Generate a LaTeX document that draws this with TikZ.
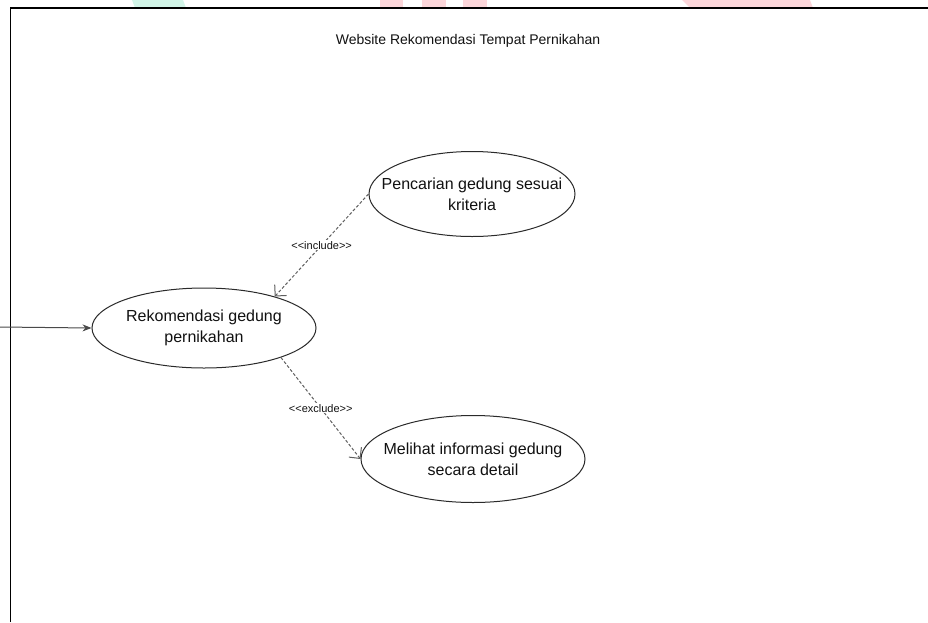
\documentclass[tikz,border=0pt]{standalone}
\usepackage{fontspec}
\setmainfont{Liberation Sans}
\usetikzlibrary{arrows.meta,shapes.geometric}
\definecolor{inkdark}{HTML}{111111}
\definecolor{edgegray}{HTML}{2A2A2A}
\definecolor{dashgray}{HTML}{5E5E5E}
\definecolor{wmred}{HTML}{FCD6DA}
\definecolor{wmgreen}{HTML}{D2F5E8}
\newcommand{\stereo}[1]{{<}{<}#1{>}{>}}
\begin{document}
\begin{tikzpicture}[x=1pt,y=-1pt,
  usecase/.style={draw=edgegray,line width=1pt,ellipse,fill=white,inner sep=0pt},
  uctext/.style={align=center,text=inkdark,font=\fontsize{16}{21}\selectfont,inner sep=0pt},
  relation/.style={draw=dashgray,line width=1pt,dash pattern=on 3pt off 2pt,
    -{Straight Barb[length=8pt,width=16pt,line width=1pt]}},
  rellabel/.style={fill=white,inner sep=1pt,text=inkdark,font=\fontsize{11}{13}\selectfont},
  assoc/.style={draw=edgegray!85!white,line width=1pt,-{Stealth[length=9pt,width=7pt]}},
  frame/.style={draw=black,line width=1.3pt}
]
\useasboundingbox (0,0) rectangle (928,622);

% faint logo shapes along the top edge
\fill[wmgreen] (132,0) -- (183,0) -- (186,8) -- (135,8) -- cycle;
\fill[wmred] (380,0) rectangle (403,8);
\fill[wmred] (422,0) rectangle (446,8);
\fill[wmred] (463,0) rectangle (487,8);
\fill[wmred] (682,0) -- (810,0) -- (813,8) -- (690,8) -- cycle;

% system boundary
\draw[frame] (10.5,622) -- (10.5,8) -- (928,8);
\node[text=inkdark,font=\fontsize{14}{17}\selectfont] (title) at (468,41)
  {Website Rekomendasi Tempat Pernikahan};

% use cases: fixed-size ellipses with their text set on top
\node[usecase,minimum width=224pt,minimum height=80pt] (rek) at (204,328) {};
\node[uctext] (rektext) at (rek.center) {Rekomendasi gedung\\pernikahan};
\node[usecase,minimum width=206pt,minimum height=85pt] (pen) at (472,194) {};
\node[uctext] (pentext) at (pen.center) {Pencarian gedung sesuai\\kriteria};
\node[usecase,minimum width=224pt,minimum height=87pt] (mel) at (473,459) {};
\node[uctext] (meltext) at (mel.center) {Melihat informasi gedung\\secara detail};

% actor association
\coordinate (actor) at (0,327);
\draw[assoc] (actor) -- (rek.west);

% relations between use cases
\draw[relation] (pen.west) -- node[rellabel] (inc) {\stereo{include}} (rek.24);
\draw[relation] (rek.-21) -- node[rellabel] (exc) {\stereo{exclude}} (mel.west);
\end{tikzpicture}
\end{document}
